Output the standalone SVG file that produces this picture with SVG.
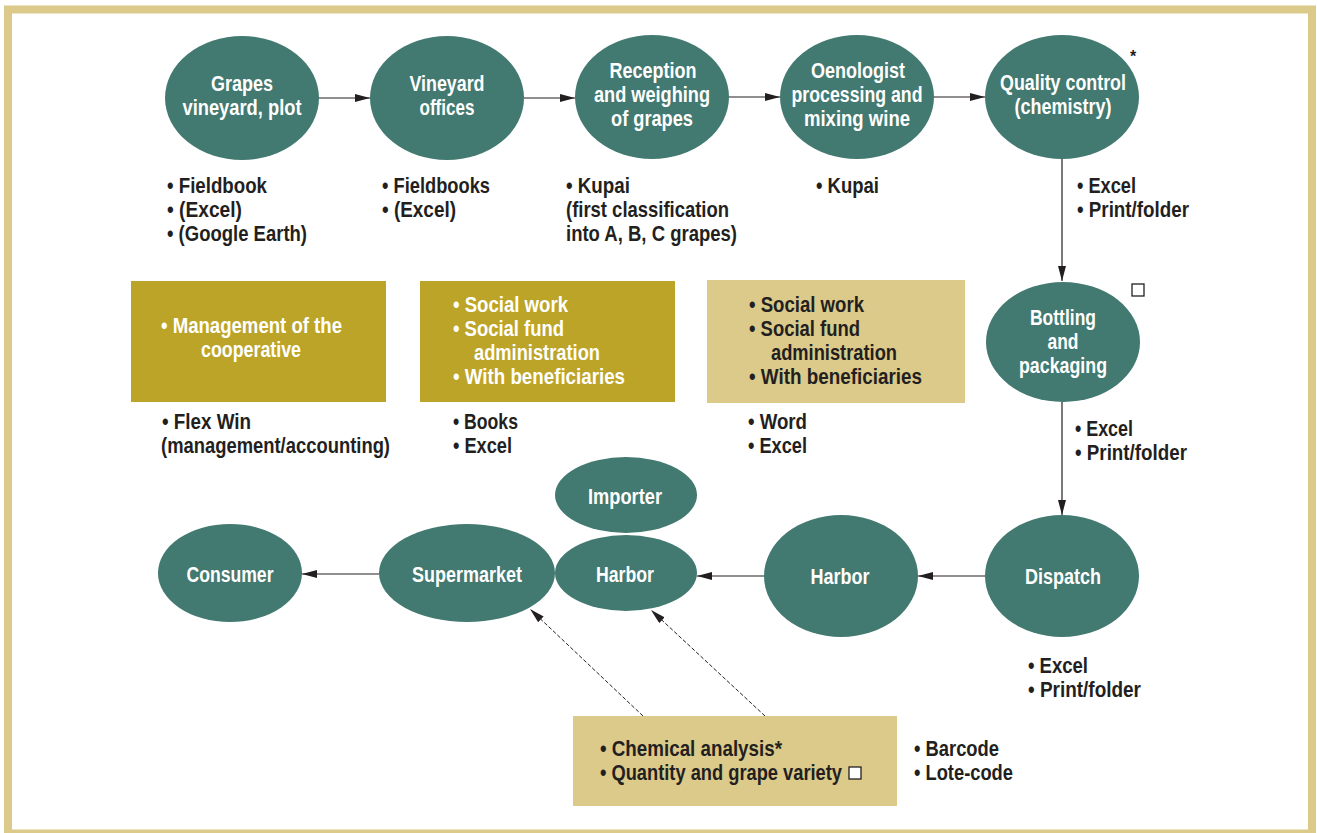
<svg xmlns="http://www.w3.org/2000/svg" width="1317" height="833" viewBox="0 0 1317 833">
<defs>
<style>
text{font-family:"Liberation Sans",Arial,sans-serif;font-weight:bold;font-size:22px}
.n{fill:#427970}
.w{fill:#ffffff;text-anchor:middle}
.wl{fill:#ffffff}
.d{fill:#231f20}
.c{stroke:#231f20;stroke-width:1.2;fill:none}
.dash{stroke:#231f20;stroke-width:1;fill:none;stroke-dasharray:4 2}
.gold{fill:#bca428}
.tan{fill:#dbca8a}
.sq{fill:#ffffff;stroke:#231f20;stroke-width:1.3}
</style>
<marker id="ah" viewBox="0 0 15 8" refX="15" refY="4" markerWidth="15" markerHeight="8" markerUnits="userSpaceOnUse" orient="auto">
<path d="M0,0 L15,4 L0,8 Z" fill="#231f20"/>
</marker>
</defs>
<rect x="0" y="0" width="1317" height="833" fill="#ffffff"/>
<rect x="8" y="9.5" width="1304" height="824" fill="none" stroke="#dbca8a" stroke-width="8"/>

<g id="connectors">
<line class="c" x1="319" y1="98" x2="370" y2="98" marker-end="url(#ah)"/>
<line class="c" x1="524" y1="98" x2="575" y2="98" marker-end="url(#ah)"/>
<line class="c" x1="729" y1="97" x2="780" y2="97" marker-end="url(#ah)"/>
<line class="c" x1="934" y1="97" x2="985" y2="97" marker-end="url(#ah)"/>
<line class="c" x1="1062" y1="159" x2="1062" y2="281" marker-end="url(#ah)"/>
<line class="c" x1="1062" y1="402" x2="1062" y2="515" marker-end="url(#ah)"/>
<line class="c" x1="985" y1="576" x2="918" y2="576" marker-end="url(#ah)"/>
<line class="c" x1="764" y1="576" x2="697" y2="576" marker-end="url(#ah)"/>
<line class="c" x1="379" y1="574" x2="302" y2="574" marker-end="url(#ah)"/>
<line class="dash" x1="643" y1="716" x2="530" y2="609" marker-end="url(#ah)"/>
<line class="dash" x1="765" y1="716" x2="651" y2="610" marker-end="url(#ah)"/>
</g>

<g id="grapes"><ellipse class="n" cx="242" cy="98" rx="77" ry="62"/><text class="w" x="242" y="91" textLength="62" lengthAdjust="spacingAndGlyphs">Grapes</text><text class="w" x="242" y="115" textLength="119" lengthAdjust="spacingAndGlyphs">vineyard, plot</text></g>
<g id="vineyard-offices"><ellipse class="n" cx="447" cy="98" rx="77" ry="62"/><text class="w" x="447" y="91" textLength="75" lengthAdjust="spacingAndGlyphs">Vineyard</text><text class="w" x="447" y="115" textLength="55" lengthAdjust="spacingAndGlyphs">offices</text></g>
<g id="reception"><ellipse class="n" cx="652" cy="97" rx="77" ry="62"/><text class="w" x="653" y="78" textLength="87" lengthAdjust="spacingAndGlyphs">Reception</text><text class="w" x="652" y="102" textLength="116" lengthAdjust="spacingAndGlyphs">and weighing</text><text class="w" x="652" y="126" textLength="82" lengthAdjust="spacingAndGlyphs">of grapes</text></g>
<g id="oenologist"><ellipse class="n" cx="857" cy="97" rx="77" ry="62"/><text class="w" x="858" y="78" textLength="94" lengthAdjust="spacingAndGlyphs">Oenologist</text><text class="w" x="857" y="102" textLength="131" lengthAdjust="spacingAndGlyphs">processing and</text><text class="w" x="857" y="126" textLength="106" lengthAdjust="spacingAndGlyphs">mixing wine</text></g>
<g id="quality-control"><ellipse class="n" cx="1062" cy="97" rx="77" ry="62"/><text class="w" x="1063" y="90" textLength="126" lengthAdjust="spacingAndGlyphs">Quality control</text><text class="w" x="1063" y="114" textLength="97" lengthAdjust="spacingAndGlyphs">(chemistry)</text><text class="d" x="1133" y="62" style="font-size:16px;text-anchor:middle">*</text></g>
<g id="bottling"><ellipse class="n" cx="1063" cy="342" rx="77" ry="60"/><text class="w" x="1063" y="325" textLength="66" lengthAdjust="spacingAndGlyphs">Bottling</text><text class="w" x="1063" y="349" textLength="31" lengthAdjust="spacingAndGlyphs">and</text><text class="w" x="1063" y="373" textLength="88" lengthAdjust="spacingAndGlyphs">packaging</text><rect class="sq" x="1132" y="284" width="12" height="12"/></g>
<g id="dispatch"><ellipse class="n" cx="1062" cy="576" rx="77" ry="61"/><text class="w" x="1063" y="584" textLength="76" lengthAdjust="spacingAndGlyphs">Dispatch</text></g>
<g id="harbor-1"><ellipse class="n" cx="841" cy="576" rx="77" ry="61"/><text class="w" x="840" y="584" textLength="59" lengthAdjust="spacingAndGlyphs">Harbor</text></g>
<g id="harbor-2"><ellipse class="n" cx="626" cy="573" rx="71" ry="38"/><text class="w" x="625" y="582" textLength="58" lengthAdjust="spacingAndGlyphs">Harbor</text></g>
<g id="importer"><ellipse class="n" cx="626" cy="495" rx="71" ry="38"/><text class="w" x="625" y="504" textLength="74" lengthAdjust="spacingAndGlyphs">Importer</text></g>
<g id="supermarket"><ellipse class="n" cx="467" cy="573" rx="88" ry="49"/><text class="w" x="467" y="582" textLength="110" lengthAdjust="spacingAndGlyphs">Supermarket</text></g>
<g id="consumer"><ellipse class="n" cx="230" cy="573" rx="72" ry="49"/><text class="w" x="230" y="582" textLength="87" lengthAdjust="spacingAndGlyphs">Consumer</text></g>

<g id="notes-grapes"><text class="d" x="167" y="193" textLength="100" lengthAdjust="spacingAndGlyphs">• Fieldbook</text><text class="d" x="167" y="217" textLength="75" lengthAdjust="spacingAndGlyphs">• (Excel)</text><text class="d" x="167" y="241" textLength="140" lengthAdjust="spacingAndGlyphs">• (Google Earth)</text></g>
<g id="notes-vineyard"><text class="d" x="382" y="193" textLength="108" lengthAdjust="spacingAndGlyphs">• Fieldbooks</text><text class="d" x="382" y="217" textLength="74" lengthAdjust="spacingAndGlyphs">• (Excel)</text></g>
<g id="notes-reception"><text class="d" x="566" y="193" textLength="64" lengthAdjust="spacingAndGlyphs">• Kupai</text><text class="d" x="566" y="217" textLength="163" lengthAdjust="spacingAndGlyphs">(first classification</text><text class="d" x="566" y="241" textLength="171" lengthAdjust="spacingAndGlyphs">into A, B, C grapes)</text></g>
<g id="notes-oenologist"><text class="d" x="816" y="193" textLength="63" lengthAdjust="spacingAndGlyphs">• Kupai</text></g>
<g id="notes-qc"><text class="d" x="1077" y="193" textLength="59" lengthAdjust="spacingAndGlyphs">• Excel</text><text class="d" x="1077" y="217" textLength="112" lengthAdjust="spacingAndGlyphs">• Print/folder</text></g>
<g id="notes-bottling"><text class="d" x="1075" y="436" textLength="58" lengthAdjust="spacingAndGlyphs">• Excel</text><text class="d" x="1075" y="460" textLength="112" lengthAdjust="spacingAndGlyphs">• Print/folder</text></g>
<g id="notes-dispatch"><text class="d" x="1028" y="673" textLength="60" lengthAdjust="spacingAndGlyphs">• Excel</text><text class="d" x="1028" y="697" textLength="113" lengthAdjust="spacingAndGlyphs">• Print/folder</text></g>

<g id="box-management"><rect class="gold" x="131" y="281" width="255" height="121"/><text class="wl" x="161" y="333" textLength="181" lengthAdjust="spacingAndGlyphs">• Management of the</text><text class="wl" x="201" y="357" textLength="100" lengthAdjust="spacingAndGlyphs">cooperative</text></g>
<g id="notes-management"><text class="d" x="162" y="429" textLength="89" lengthAdjust="spacingAndGlyphs">• Flex Win</text><text class="d" x="161" y="453" textLength="229" lengthAdjust="spacingAndGlyphs">(management/accounting)</text></g>
<g id="box-social-1"><rect class="gold" x="420" y="281" width="255" height="121"/><text class="wl" x="453" y="312" textLength="115" lengthAdjust="spacingAndGlyphs">• Social work</text><text class="wl" x="453" y="336" textLength="111" lengthAdjust="spacingAndGlyphs">• Social fund</text><text class="wl" x="474" y="360" textLength="126" lengthAdjust="spacingAndGlyphs">administration</text><text class="wl" x="453" y="384" textLength="172" lengthAdjust="spacingAndGlyphs">• With beneficiaries</text></g>
<g id="notes-social-1"><text class="d" x="453" y="429" textLength="65" lengthAdjust="spacingAndGlyphs">• Books</text><text class="d" x="453" y="453" textLength="59" lengthAdjust="spacingAndGlyphs">• Excel</text></g>
<g id="box-social-2"><rect class="tan" x="707" y="280" width="258" height="123"/><text class="d" x="749" y="312" textLength="115" lengthAdjust="spacingAndGlyphs">• Social work</text><text class="d" x="749" y="336" textLength="111" lengthAdjust="spacingAndGlyphs">• Social fund</text><text class="d" x="771" y="360" textLength="126" lengthAdjust="spacingAndGlyphs">administration</text><text class="d" x="749" y="384" textLength="173" lengthAdjust="spacingAndGlyphs">• With beneficiaries</text></g>
<g id="notes-social-2"><text class="d" x="748" y="429" textLength="59" lengthAdjust="spacingAndGlyphs">• Word</text><text class="d" x="748" y="453" textLength="59" lengthAdjust="spacingAndGlyphs">• Excel</text></g>

<g id="box-analysis"><rect class="tan" x="573" y="716" width="324" height="90"/><text class="d" x="600" y="756" textLength="182" lengthAdjust="spacingAndGlyphs">• Chemical analysis*</text><text class="d" x="600" y="780" textLength="242" lengthAdjust="spacingAndGlyphs">• Quantity and grape variety</text><rect class="sq" x="849" y="767" width="12" height="12"/></g>
<g id="notes-analysis"><text class="d" x="914" y="756" textLength="85" lengthAdjust="spacingAndGlyphs">• Barcode</text><text class="d" x="914" y="780" textLength="99" lengthAdjust="spacingAndGlyphs">• Lote-code</text></g>
</svg>
